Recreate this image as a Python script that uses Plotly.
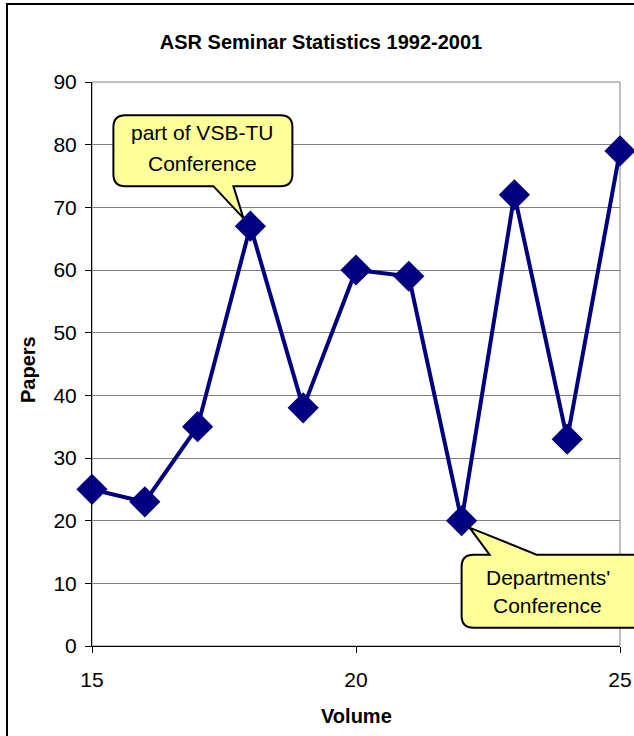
import plotly.graph_objects as go

# Seminar volumes and number of papers per volume
volumes = [15, 16, 17, 18, 19, 20, 21, 22, 23, 24, 25]
papers = [25, 23, 35, 67, 38, 60, 59, 20, 72, 33, 79]

x_range = [15, 25]
y_range = [0, 90]
x_ticks = [15, 20, 25]
y_ticks = [0, 10, 20, 30, 40, 50, 60, 70, 80, 90]

# Callout notes: (volume, lines of text)
note_a_volume = 18
note_a_lines = ["part of VSB-TU", "Conference"]
note_b_volume = 22
note_b_lines = ["Departments'", "Conference"]

W, H = 634, 736
M_L, M_R, M_T, M_B = 92, 14, 82, 90
NAVY = "#000080"
FONT = "Liberation Sans, Arial, sans-serif"


def value_of(vol):
    return papers[volumes.index(vol)]


def dom(v, rng):
    return (v - rng[0]) / (rng[1] - rng[0])


def callout_path(box, base, tip, edge, r=12):
    """Rounded box with a wedge pointer; pixel offsets, y pointing up."""
    x0, x1, y0, y1 = box
    b0, b1 = base
    tx, ty = tip
    p = [f"M{x0 + r},{y1}"]
    if edge == "top":
        p += [f"L{b0},{y1}", f"L{tx},{ty}", f"L{b1},{y1}"]
    p += [f"L{x1 - r},{y1}", f"Q{x1},{y1} {x1},{y1 - r}",
          f"L{x1},{y0 + r}", f"Q{x1},{y0} {x1 - r},{y0}"]
    if edge == "bottom":
        p += [f"L{b1},{y0}", f"L{tx},{ty}", f"L{b0},{y0}"]
    p += [f"L{x0 + r},{y0}", f"Q{x0},{y0} {x0},{y0 + r}",
          f"L{x0},{y1 - r}", f"Q{x0},{y1} {x0 + r},{y1}", "Z"]
    return " ".join(p)


fig = go.Figure()
fig.add_trace(go.Scatter(
    x=volumes, y=papers, mode="lines+markers",
    line=dict(color=NAVY, width=4),
    marker=dict(symbol="diamond", size=24, color=NAVY, line=dict(width=0)),
    cliponaxis=False, showlegend=False, hoverinfo="x+y",
))

shapes = [
    # plot area frame
    dict(type="rect", xref="paper", yref="paper", x0=0, x1=1, y0=0, y1=1,
         line=dict(color="#808080", width=1), layer="below"),
    # outer chart frame
    dict(type="rect", xref="paper", yref="paper",
         x0=(7 - M_L) / (W - M_L - M_R), x1=(660 - M_L) / (W - M_L - M_R),
         y0=(H - M_B - 760) / (H - M_T - M_B), y1=(H - M_B - 4) / (H - M_T - M_B),
         line=dict(color="black", width=2), layer="below"),
]

callouts = [
    (note_a_volume, (-137, 42, 40, 111), (-37, -17), (-7, 8), "bottom"),
    (note_b_volume, (0, 200, -107, -34), (28, 75), (8, -7), "top"),
]
for vol, box, base, tip, edge in callouts:
    shapes.append(dict(
        type="path", xref="x domain", yref="y domain",
        xsizemode="pixel", ysizemode="pixel",
        xanchor=dom(vol, x_range), yanchor=dom(value_of(vol), y_range),
        path=callout_path(box, base, tip, edge),
        fillcolor="#FFFF99", line=dict(color="black", width=2), layer="above",
    ))

annotations = []
text_offsets = [
    (note_a_volume, note_a_lines, [(-48, 94), (-48, 63)]),
    (note_b_volume, note_b_lines, [(86, -57), (86, -85)]),
]
for vol, lines, offs in text_offsets:
    for line, (dx, dy) in zip(lines, offs):
        annotations.append(dict(
            x=vol, y=value_of(vol), xref="x", yref="y", text=line,
            showarrow=False, xshift=dx, yshift=dy,
            xanchor="center", yanchor="middle",
            font=dict(family=FONT, size=21, color="black"),
        ))

# axis titles
annotations.append(dict(
    text="<b>Papers</b>", xref="paper", yref="paper", x=0, y=(H - M_B - 370) / (H - M_T - M_B),
    xshift=28 - M_L, showarrow=False, textangle=-90,
    xanchor="center", yanchor="middle",
    font=dict(family=FONT, size=20, color="black"),
))
annotations.append(dict(
    text="<b>Volume</b>", xref="paper", yref="paper", x=(356 - M_L) / (W - M_L - M_R),
    y=(H - M_B - 716) / (H - M_T - M_B), showarrow=False,
    xanchor="center", yanchor="middle",
    font=dict(family=FONT, size=20, color="black"),
))

fig.update_layout(
    width=W, height=H,
    margin=dict(l=M_L, r=M_R, t=M_T, b=M_B, autoexpand=False),
    paper_bgcolor="white", plot_bgcolor="white",
    title=dict(text="<b>ASR Seminar Statistics 1992-2001</b>",
               x=321 / W, xref="container", xanchor="center",
               y=1 - 42 / H, yref="container", yanchor="middle",
               font=dict(family=FONT, size=20, color="black")),
    shapes=shapes, annotations=annotations,
    font=dict(family=FONT, color="black"),
)
fig.update_xaxes(
    range=x_range, tickvals=x_ticks, ticktext=[str(v) for v in x_ticks],
    showgrid=False, zeroline=False, showline=True, linecolor="black", linewidth=1,
    ticks="outside", ticklen=6, tickcolor="black", automargin=False,
    tickfont=dict(family=FONT, size=21, color="black"), ticklabelstandoff=9,
)
fig.update_yaxes(
    range=y_range, tickvals=y_ticks, ticktext=[str(v) for v in y_ticks],
    showgrid=True, gridcolor="#808080", gridwidth=1,
    zeroline=False, showline=True, linecolor="black", linewidth=1,
    ticks="outside", ticklen=6, tickcolor="black", automargin=False,
    tickfont=dict(family=FONT, size=21, color="black"), ticklabelstandoff=4,
)

fig.write_html("out.html", config={"responsive": False})
